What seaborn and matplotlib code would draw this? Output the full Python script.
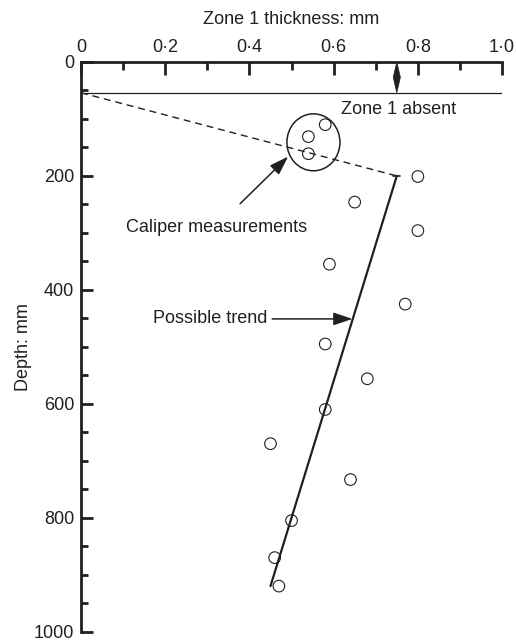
import matplotlib
matplotlib.use("Agg")
import matplotlib.pyplot as plt
from matplotlib.patches import Ellipse, Polygon
import seaborn as sns
import pandas as pd
from matplotlib.ticker import MultipleLocator

# ---- data ----
thickness = [0.58, 0.54, 0.54, 0.80, 0.65, 0.80, 0.59, 0.77, 0.58, 0.68, 0.58, 0.45, 0.64, 0.50, 0.46, 0.47]
depth = [110, 131, 161, 201, 246, 296, 355, 425, 495, 556, 610, 670, 733, 805, 870, 920]

trend_x = [0.75, 0.45]
trend_y = [200, 920]

dash_x = [0.0, 0.75]
dash_y = [54, 200]

absent_depth = 54
absent_x = [0.0, 1.0]

x_ticks = [0, 0.2, 0.4, 0.6, 0.8, 1.0]
x_labels = ["0", "0·2", "0·4", "0·6", "0·8", "1·0"]
y_ticks = [0, 200, 400, 600, 800, 1000]
y_labels = ["0", "200", "400", "600", "800", "1000"]

INK = "#231f20"
FS = 13

sns.set_theme(style="white")
plt.rcParams["font.family"] = ["Liberation Sans", "DejaVu Sans"]
plt.rcParams["font.size"] = FS

fig = plt.figure(figsize=(5.16, 6.43), dpi=100)
ax = fig.add_axes([0.157, 0.0176, 0.816, 0.886])

df = pd.DataFrame({"thickness": thickness, "depth": depth})
sns.scatterplot(data=df, x="thickness", y="depth", ax=ax, s=70,
                facecolor="none", edgecolor=INK, linewidth=0.8, zorder=3)

trend = pd.DataFrame({"x": trend_x, "y": trend_y})
sns.lineplot(data=trend, x="x", y="y", ax=ax, sort=False, color=INK, lw=1.6, zorder=2)
# small cap at top of trend line
ax.plot([trend_x[0] - 0.008, trend_x[0] + 0.008], [trend_y[0], trend_y[0]], color=INK, lw=1.2)

dash = pd.DataFrame({"x": dash_x, "y": dash_y})
sns.lineplot(data=dash, x="x", y="y", ax=ax, sort=False, color=INK, lw=1.0,
             zorder=2).lines[-1].set_dashes((5, 3.5))

ax.plot(absent_x, [absent_depth, absent_depth], color=INK, lw=0.9, zorder=2)

# double-headed marker for zone 1 absent
dx = 0.0085
diamond = Polygon([(0.75, 0), (0.75 + dx, absent_depth / 2), (0.75, absent_depth),
                   (0.75 - dx, absent_depth / 2)], closed=True, facecolor=INK,
                  edgecolor=INK, lw=0.5, zorder=4, clip_on=False)
ax.add_patch(diamond)

# big circle around caliper measurements
ax.add_patch(Ellipse((0.552, 141), 0.126, 100, facecolor="none", edgecolor=INK, lw=1.1, zorder=3))

ax.text(0.755, 83, "Zone 1 absent", ha="center", va="center", color=INK, fontsize=FS)

ax.annotate("Caliper measurements", xy=(0.492, 166), xytext=(0.321, 290),
            ha="center", va="center", color=INK, fontsize=FS,
            arrowprops=dict(arrowstyle="-|>,head_length=0.9,head_width=0.3", color=INK,
                            lw=1.1, shrinkA=12, shrinkB=0))

ax.annotate("Possible trend", xy=(0.645, 451), xytext=(0.443, 451),
            ha="right", va="center", color=INK, fontsize=FS,
            arrowprops=dict(arrowstyle="-|>,head_length=0.9,head_width=0.3", color=INK,
                            lw=1.1, shrinkA=1, shrinkB=0))

ax.set_xlim(0, 1.0)
ax.set_ylim(1000, 0)

ax.xaxis.set_ticks_position("top")
ax.xaxis.set_label_position("top")
ax.set_xticks(x_ticks)
ax.set_xticklabels(x_labels)
ax.set_yticks(y_ticks)
ax.set_yticklabels(y_labels)
ax.xaxis.set_minor_locator(MultipleLocator(0.1))
ax.yaxis.set_minor_locator(MultipleLocator(50))

ax.tick_params(axis="x", which="major", direction="in", length=9, width=2, color=INK,
               labelcolor=INK, labelsize=FS, pad=4, top=True, bottom=False)
ax.tick_params(axis="x", which="minor", direction="in", length=5.5, width=2, color=INK,
               top=True, bottom=False)
ax.tick_params(axis="y", which="major", direction="in", length=8.5, width=2, color=INK,
               labelcolor=INK, labelsize=FS, pad=5, left=True)
ax.tick_params(axis="y", which="minor", direction="in", length=5, width=2, color=INK, left=True)

for s in ["right", "bottom"]:
    ax.spines[s].set_visible(False)
for s in ["left", "top"]:
    ax.spines[s].set_color(INK)
    ax.spines[s].set_linewidth(2)

ax.set_xlabel("Zone 1 thickness: mm", color=INK, fontsize=FS, labelpad=11)
ax.set_ylabel("Depth: mm", color=INK, fontsize=FS, labelpad=1)

fig.savefig("out.png", dpi=100)
